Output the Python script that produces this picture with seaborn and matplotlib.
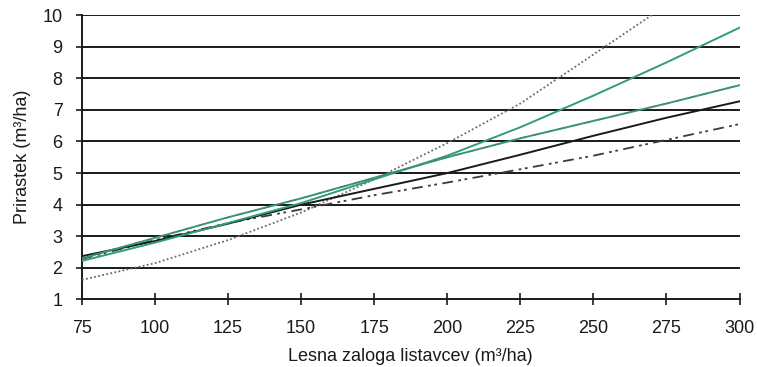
import matplotlib
matplotlib.use("Agg")
import matplotlib.pyplot as plt
import seaborn as sns
import pandas as pd

# Stock of broadleaves (m3/ha)
zaloga = [75, 100, 125, 150, 175, 200, 225, 250, 275, 300]

# Increment models (m3/ha)
crna_polna = [2.37, 2.85, 3.40, 4.00, 4.50, 5.00, 5.58, 6.18, 6.75, 7.27]
zelena_polna = [2.22, 2.80, 3.42, 4.05, 4.80, 5.55, 6.45, 7.45, 8.50, 9.60]
zelena_crtkana = [2.30, 2.95, 3.60, 4.20, 4.85, 5.50, 6.10, 6.65, 7.20, 7.78]
crta_pika = [2.28, 2.88, 3.42, 3.85, 4.30, 4.70, 5.12, 5.55, 6.05, 6.55]

zaloga_pikcasta = [75, 100, 125, 150, 175, 200, 225, 250, 270]
pikcasta = [1.62, 2.15, 2.88, 3.75, 4.80, 5.95, 7.20, 8.75, 10.00]

x_ticks = [75, 100, 125, 150, 175, 200, 225, 250, 275, 300]
y_ticks = [1, 2, 3, 4, 5, 6, 7, 8, 9, 10]

sns.set_theme(style="white")
plt.rcParams["font.family"] = ["Liberation Sans", "DejaVu Sans"]

fig = plt.figure(figsize=(7.57, 3.67), dpi=100)
ax = fig.add_axes([0.1083, 0.184, 0.8686, 0.775])

zelena = "#2f9e70"

# horizontal grid lines
for y in y_ticks[1:]:
    ax.axhline(y, color="#1a1a1a", lw=1.4, zorder=1)

df = pd.DataFrame({"x": zaloga, "a": crna_polna, "b": zelena_polna,
                   "c": zelena_crtkana, "d": crta_pika})
dp = pd.DataFrame({"x": zaloga_pikcasta, "e": pikcasta})

sns.lineplot(data=dp, x="x", y="e", ax=ax, color="#6a6a6a", lw=1.3, zorder=3)
ax.lines[-1].set_dashes([1, 1.3])
sns.lineplot(data=df, x="x", y="d", ax=ax, color="#3a3a3a", lw=1.3, zorder=3)
ax.lines[-1].set_dashes([6, 3, 1.5, 2, 1.5, 3])
sns.lineplot(data=df, x="x", y="a", ax=ax, color="#1a1a1a", lw=1.4, zorder=4)
sns.lineplot(data=df, x="x", y="b", ax=ax, color=zelena, lw=1.4, zorder=4)
sns.lineplot(data=df, x="x", y="c", ax=ax, color=zelena, lw=1.4, zorder=4)
sns.lineplot(data=df, x="x", y="c", ax=ax, color="#5b7d6b", lw=0.8, zorder=5)
ax.lines[-1].set_dashes([7, 5])

ax.set_xlim(75, 300)
ax.set_ylim(1, 10)
ax.set_xticks(x_ticks)
ax.set_yticks(y_ticks)

for side in ["top", "right"]:
    ax.spines[side].set_visible(False)
for side in ["left", "bottom"]:
    ax.spines[side].set_color("#1a1a1a")
    ax.spines[side].set_linewidth(1.4)

ax.tick_params(axis="x", direction="inout", length=8, width=1.2,
               color="#1a1a1a", labelsize=13, pad=11, bottom=True)
ax.tick_params(axis="y", direction="out", length=4, width=1.2,
               color="#1a1a1a", labelsize=13, pad=10, left=True)
ax.set_xlabel("Lesna zaloga listavcev (m³/ha)", fontsize=13, labelpad=8,
              color="#1a1a1a")
ax.set_ylabel("Prirastek (m³/ha)", fontsize=13, labelpad=8, color="#1a1a1a")
for lbl in ax.get_xticklabels() + ax.get_yticklabels():
    lbl.set_color("#1a1a1a")

fig.savefig("out.png", dpi=100, facecolor="white")
